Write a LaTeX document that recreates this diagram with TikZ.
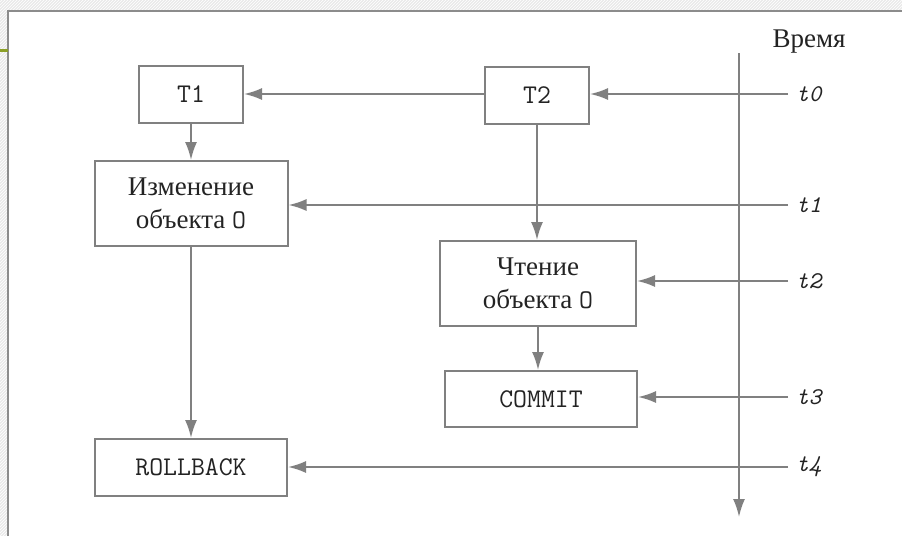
\documentclass[tikz,border=0pt]{standalone}
\usepackage{fontspec}
\setmainfont{Liberation Serif}
\usepackage{tikz}
\usetikzlibrary{positioning,arrows.meta,patterns}
\definecolor{trait}{RGB}{128,128,128}
\definecolor{fond}{RGB}{234,234,234}
\definecolor{bord}{RGB}{140,140,140}
\definecolor{vert}{RGB}{140,160,40}
\definecolor{texte}{RGB}{35,35,35}
\tikzset{
	boite/.style={draw=trait,line width=2pt,fill=white,text=texte,inner sep=0pt,align=center,font=\fontsize{27}{33}\selectfont},
	fleche/.style={draw=trait,line width=2pt,-{Latex[length=18pt,width=12pt]}},
	instant/.style={anchor=west,inner sep=0pt,text=texte,font=\fontsize{24}{26}\selectfont\ttfamily\itshape}
}

\begin{document}
\begin{tikzpicture}[x=1pt,y=-1pt]
	\useasboundingbox (0,0) rectangle (902,536);
	
	%Fond et cadre
	\fill[fond] (0,0) rectangle (902,536);
	\fill[pattern=north east lines,pattern color=white] (0,0) rectangle (902,536);
	\fill[white] (8,11) rectangle (902,536);
	\draw[bord,line width=2pt] (8,536) -- (8,11) -- (902,11);
	\draw[vert,line width=3pt] (0,50) -- (8,50);
	
	%Boites
	\node[boite,minimum width=104pt,minimum height=57pt] (T1) at (191,94.5) {\texttt{T1}};
	\node[boite,minimum width=104pt,minimum height=57pt] (T2) at (537,95) {\texttt{T2}};
	\node[boite,minimum width=193pt,minimum height=85pt] (modif) at (191,203.5) {Изменение\\объекта \texttt{O}};
	\node[boite,minimum width=196pt,minimum height=85pt] (lecture) at (538,283.5) {Чтение\\объекта \texttt{O}};
	\node[boite,minimum width=192pt,minimum height=56pt] (commit) at (541,399) {\texttt{COMMIT}};
	\node[boite,minimum width=192pt,minimum height=57pt] (rollback) at (191,467.5) {\texttt{ROLLBACK}};
	
	%Axe du temps
	\coordinate (haut) at (739,53);
	\coordinate (bas) at (739,517);
	\draw[fleche] (haut) -- (bas);
	\node[text=texte,font=\fontsize{27}{30}\selectfont] (temps) at (809,42) {Время};
	
	%Instants
	\foreach \k/\y in {0/94,1/205,2/281,3/397,4/467}{
		\coordinate (c\k) at (788,\y);
		\node[instant] (t\k) at (796,\y) {t\k};
	}
	
	%Fleches horizontales
	\draw[fleche] (c0) -- (c0 -| T2.east);
	\draw[fleche] (T2.west |- c0) -- (c0 -| T1.east);
	\draw[fleche] (c1) -- (c1 -| modif.east);
	\draw[fleche] (c2) -- (c2 -| lecture.east);
	\draw[fleche] (c3) -- (c3 -| commit.east);
	\draw[fleche] (c4) -- (c4 -| rollback.east);
	
	%Fleches verticales
	\draw[fleche] (T1.south) -- (modif.north);
	\draw[fleche] (modif.south) -- (rollback.north);
	\draw[fleche] (T2.south) -- (T2.south |- lecture.north);
	\draw[fleche] (lecture.south) -- (lecture.south |- commit.north);
\end{tikzpicture}
\end{document}
